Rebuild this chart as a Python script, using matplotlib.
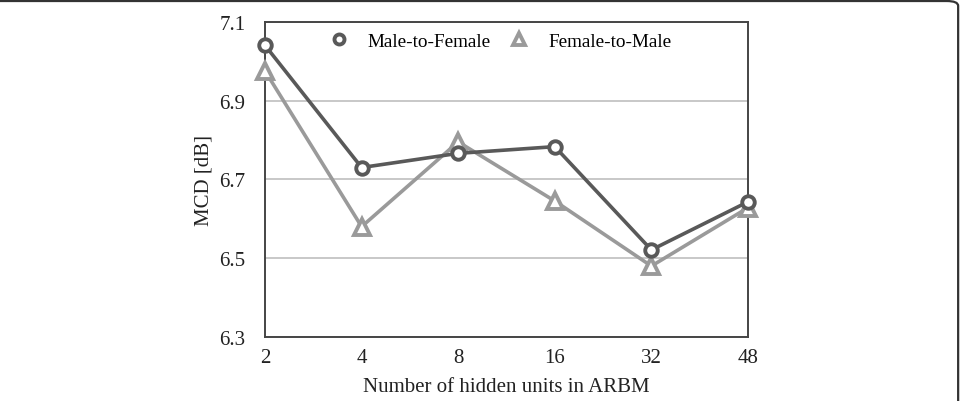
import matplotlib
matplotlib.use('Agg')
import matplotlib.pyplot as plt
from matplotlib.patches import FancyBboxPatch

# data
hidden_units = ['2', '4', '8', '16', '32', '48']
m2f = [7.040, 6.730, 6.766, 6.783, 6.521, 6.643]
f2m = [6.975, 6.580, 6.795, 6.645, 6.480, 6.628]
yticks = [6.3, 6.5, 6.7, 6.9, 7.1]

plt.rcParams['font.family'] = ['Liberation Serif', 'DejaVu Serif']
plt.rcParams['font.size'] = 15

fig = plt.figure(figsize=(9.62, 4.02), dpi=100)
ax = fig.add_axes([0.2755, 0.1592, 0.502, 0.7843])

x = range(len(hidden_units))
ax.plot(x, m2f, '-o', color='#595959', lw=2.6, ms=9, mew=2.8,
        mfc='white', mec='#595959', label='Male-to-Female', zorder=4,
        clip_on=False)
ax.plot(x, f2m, '-^', color='#9a9a9a', lw=2.6, ms=11, mew=2.8,
        mfc='white', mec='#9a9a9a', label='Female-to-Male', zorder=3,
        clip_on=False)

ax.set_xlim(0, len(hidden_units) - 1)
ax.set_ylim(6.3, 7.1)
ax.set_xticks(list(x))
ax.set_xticklabels(hidden_units)
ax.set_yticks(yticks)
ax.set_yticklabels([f'{v:.1f}' for v in yticks])
ax.tick_params(axis='both', length=0, colors='#222222')
ax.tick_params(axis='y', pad=14)
ax.tick_params(axis='x', pad=8)
ax.grid(axis='y', color='#c8c8c8', lw=1.4)
ax.set_axisbelow(True)
for s in ax.spines.values():
    s.set_color('#454545')
    s.set_linewidth(1.4)

ax.set_xlabel('Number of hidden units in ARBM', labelpad=7, color='#222222')
ax.set_ylabel('MCD [dB]', labelpad=4, color='#222222')

leg = ax.legend(loc='upper center', bbox_to_anchor=(0.487, 1.02), ncol=2,
                frameon=False, handlelength=1.0, columnspacing=1.0,
                handletextpad=1.0, markerscale=0.8, fontsize=13.8)
for h in leg.legend_handles:
    h.set_linestyle('None')

# frame around the whole figure (top and right edges visible)
frame = FancyBboxPatch((-0.05, -0.05), 1.046, 1.045,
                       boxstyle='round,pad=0,rounding_size=0.012',
                       transform=fig.transFigure, fill=False,
                       ec='#333333', lw=1.6, clip_on=False)
fig.patches.append(frame)

fig.savefig('out.png', dpi=100)
plt.close()
